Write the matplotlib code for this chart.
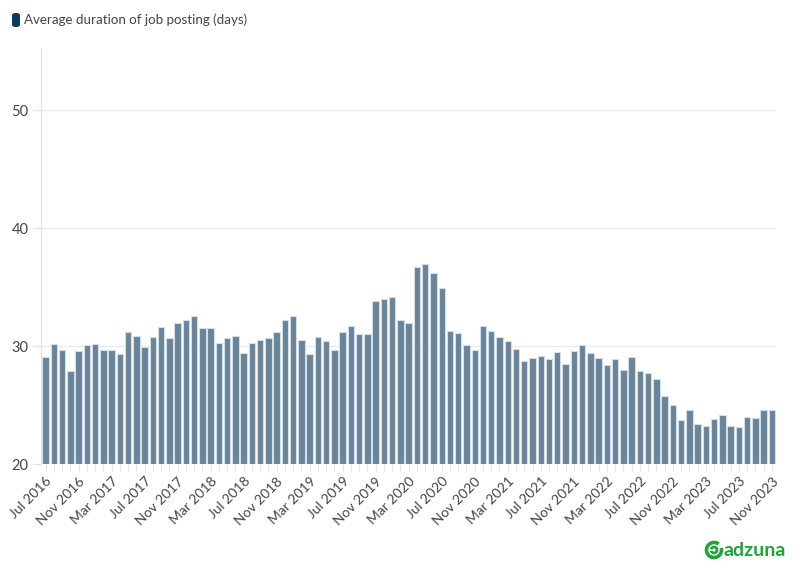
import matplotlib
matplotlib.use("Agg")
import matplotlib.pyplot as plt
from matplotlib.patches import FancyBboxPatch, Arc

plt.rcParams["font.family"] = ["Lato", "DejaVu Sans"]

# ---- data ---------------------------------------------------------------
MONTHS = ["Jan", "Feb", "Mar", "Apr", "May", "Jun",
          "Jul", "Aug", "Sep", "Oct", "Nov", "Dec"]
months = []
y, m = 2016, 6
while (y, m) <= (2023, 10):
    months.append(f"{MONTHS[m]} {y}")
    m += 1
    if m == 12:
        m, y = 0, y + 1

duration = [
    29.1, 30.2, 29.7, 27.9, 29.6, 30.1, 30.2, 29.7, 29.7, 29.3,
    31.2, 30.9, 29.9, 30.8, 31.6, 30.7, 32.0, 32.2, 32.6, 31.5,
    31.5, 30.3, 30.7, 30.9, 29.4, 30.3, 30.5, 30.7, 31.2, 32.2,
    32.6, 30.5, 29.3, 30.8, 30.4, 29.7, 31.2, 31.7, 31.0, 31.0,
    33.8, 34.0, 34.2, 32.2, 32.0, 36.7, 37.0, 36.2, 34.9, 31.3,
    31.1, 30.1, 29.7, 31.7, 31.3, 30.8, 30.4, 29.8, 28.7, 29.0,
    29.2, 28.9, 29.5, 28.5, 29.6, 30.1, 29.4, 29.0, 28.4, 28.9,
    28.0, 29.1, 27.9, 27.7, 27.2, 25.8, 25.0, 23.7, 24.6, 23.4,
    23.2, 23.8, 24.2, 23.2, 23.1, 24.0, 23.9, 24.6, 24.6,
]
y_ticks = [20, 30, 40, 50]
series_name = "Average duration of job posting (days)"

# ---- style --------------------------------------------------------------
BAR = "#6A8499"
EDGE = "#D4DEE6"
SWATCH = "#0E3A5E"
TXT = "#444444"
GRID = "#E9E9E9"
TICK = "#E4E4E4"
GREEN = "#23A23A"

fig = plt.figure(figsize=(7.96, 5.75), dpi=100)
ax = fig.add_axes([41 / 796, 1 - 464 / 575, 735 / 796, 416 / 575])

x = list(range(len(duration)))
ax.bar(x, [v - 20 for v in duration], bottom=20, width=0.78,
       color=BAR, edgecolor=EDGE, linewidth=0.8, zorder=3)

ax.set_xlim(-0.55, len(duration) - 0.5)
ax.set_ylim(20, 55.3)
ax.set_yticks(y_ticks)
ax.set_yticklabels([str(t) for t in y_ticks], fontsize=10.5, color=TXT)
ax.yaxis.grid(True, color=GRID, lw=0.9, zorder=0)
ax.tick_params(axis="y", length=6, color=TICK, width=0.9, pad=3)

ax.set_xticks(x, minor=True)
ax.tick_params(axis="x", which="minor", length=5, color=TICK, width=0.8)
ax.set_xticks(x[::4])
ax.set_xticklabels(months[::4], rotation=45, ha="right",
                   rotation_mode="anchor", fontsize=10, color=TXT)
ax.tick_params(axis="x", which="major", length=5, color=TICK,
               width=0.8, pad=3)

for sp in ("top", "right", "bottom"):
    ax.spines[sp].set_visible(False)
ax.spines["left"].set_color(TICK)
ax.spines["left"].set_linewidth(0.9)

# ---- legend -------------------------------------------------------------
fig.add_artist(FancyBboxPatch((12 / 796, 1 - 27 / 575), 8 / 796, 14 / 575,
               boxstyle="round,pad=0,rounding_size=0.004",
               transform=fig.transFigure, facecolor=SWATCH, edgecolor="none"))
fig.text(24 / 796, 1 - 20 / 575, series_name, ha="left", va="center",
         fontsize=9.6, color=TXT)

# ---- logo ---------------------------------------------------------------
fig.add_artist(Arc((714 / 796, 1 - 550 / 575), 15 / 796, 15 / 575,
                   theta1=60, theta2=380, color=GREEN, lw=2.6,
                   transform=fig.transFigure))
fig.add_artist(Arc((714 / 796, 1 - 550 / 575), 6 / 796, 6 / 575,
                   theta1=200, theta2=520, color=GREEN, lw=2.0,
                   transform=fig.transFigure))
fig.text(724 / 796, 1 - 550 / 575, "adzuna", ha="left", va="center",
         fontsize=14, fontweight="bold", color=GREEN)

fig.savefig("out.png", dpi=100, facecolor="white")
